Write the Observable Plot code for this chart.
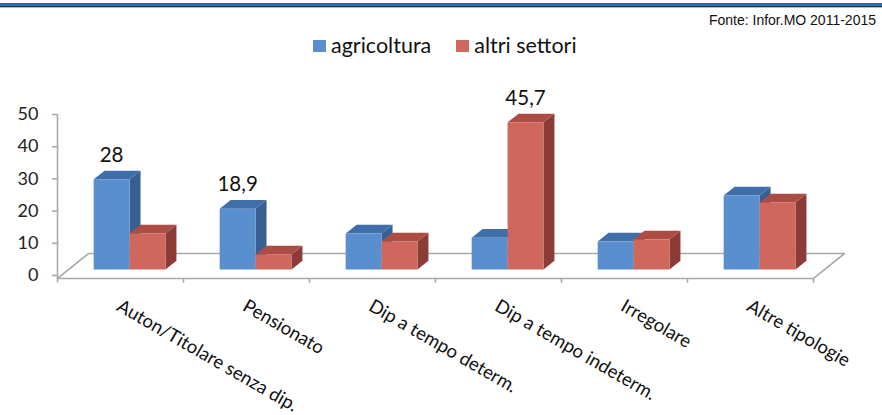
<!DOCTYPE html>
<html>
<head>
<meta charset="utf-8">
<script src="https://cdn.jsdelivr.net/npm/d3@7"></script>
<script src="https://cdn.jsdelivr.net/npm/@observablehq/plot@0.6"></script>
<style>
  html, body { margin: 0; padding: 0; background: #fff; }
  #page { position: relative; width: 882px; height: 415px; overflow: hidden; }
  #hdr-blue { position: absolute; left: 0; top: 3px; width: 882px; height: 3px; background: #146fd0; }
  #hdr-dark { position: absolute; left: 0; top: 6px; width: 882px; height: 1px; background: #1d3550; }
  #hdr-gray { position: absolute; left: 0; top: 7px; width: 882px; height: 1px; background: #b8b8b8; }
  #source { position: absolute; right: 6px; top: 12px; font: 14px "Liberation Sans", Arial, sans-serif; color: #111; }
  #legend { position: absolute; left: 313px; top: 32px; font: 21.5px Lato, "Open Sans", sans-serif; color: #111; display: flex; align-items: center; white-space: nowrap; }
  #legend .sw { display: inline-block; width: 13px; height: 12px; margin-right: 5px; position: relative; top: 1px; }
  #legend .item { display: flex; align-items: center; margin-right: 25px; }
  #chart { position: absolute; left: 0; top: 70px; }
</style>
</head>
<body>
<div id="page">
  <div id="hdr-blue"></div><div id="hdr-dark"></div><div id="hdr-gray"></div>
  <div id="source">Fonte: Infor.MO 2011-2015</div>
  <div id="legend"></div>
  <div id="chart"></div>
</div>
<script>
// ---- data ----
const categories = ["Auton/Titolare senza dip.", "Pensionato", "Dip a tempo determ.", "Dip a tempo indeterm.", "Irregolare", "Altre tipologie"];
const seriesNames = ["agricoltura", "altri settori"];
const agricoltura = [28, 18.9, 11.2, 9.9, 8.7, 23.0];
const altriSettori = [11.2, 4.7, 8.7, 45.7, 9.3, 20.8];
const yTicks = [0, 10, 20, 30, 40, 50];
const labelled = [["Auton/Titolare senza dip.", "agricoltura"], ["Pensionato", "agricoltura"], ["Dip a tempo indeterm.", "altri settori"]];

// ---- styles ----
const palette = {
  "agricoltura":   {front: "#5a8fcf", top: "#3f6fa9", side: "#385f91"},
  "altri settori": {front: "#cf675c", top: "#ad4c45", side: "#8c3b37"}
};

// legend
const legend = document.getElementById("legend");
seriesNames.forEach(s => {
  const it = document.createElement("span");
  it.className = "item";
  it.innerHTML = `<span class="sw" style="background:${palette[s].front}"></span>${s}`;
  legend.appendChild(it);
});

// ---- 3D geometry (in scale units) ----
const BASE = 1.86;   // bar floor level
const DX = 0.087;    // depth offset along x (category units)
const DZ = 2.7;      // depth offset along y (value units)
const W = 0.285;     // bar width
const X0 = 0.287;    // left edge of first bar inside a category

const bars = [];
categories.forEach((c, i) => {
  [agricoltura[i], altriSettori[i]].forEach((v, j) => {
    bars.push({cat: c, i, series: seriesNames[j], value: v, x1: i + X0 + j * W, x2: i + X0 + (j + 1) * W});
  });
});

const faces = [];
bars.forEach((b, k) => {
  const y0 = BASE, y1 = BASE + b.value, p = palette[b.series];
  const add = (name, color, pts) => pts.forEach(([x, y]) => faces.push({id: k + "-" + name, color, x, y}));
  add("side", p.side, [[b.x2, y0], [b.x2 + DX, y0 + DZ], [b.x2 + DX, y1 + DZ], [b.x2, y1]]);
  add("top", p.top, [[b.x1, y1], [b.x1 + DX, y1 + DZ], [b.x2 + DX, y1 + DZ], [b.x2, y1]]);
  add("front", p.front, [[b.x1, y0], [b.x2, y0], [b.x2, y1], [b.x1, y1]]);
});

const FRONT = -0.93, BACK = 6.83, FDX = 0.246;
const floor = [
  {x: 0, y: FRONT}, {x: categories.length, y: FRONT},
  {x: categories.length + FDX, y: BACK}, {x: FDX, y: BACK}, {x: 0, y: FRONT}
];

const labelData = bars.filter(b => labelled.some(([c, s]) => c === b.cat && s === b.series));
const fmt = v => String(v).replace(".", ",");
const FONT = "Lato, 'Open Sans', sans-serif";

const chart = Plot.plot({
  width: 882,
  height: 345,
  marginLeft: 57,
  marginRight: 69,
  marginTop: 44,
  marginBottom: 140,
  style: {fontFamily: FONT, background: "transparent"},
  x: {domain: [0, categories.length], axis: null},
  y: {domain: [0, 50], axis: null},
  color: {type: "identity"},
  marks: [
    // floor outline
    Plot.line(floor, {x: "x", y: "y", stroke: "#a9a9a9", strokeWidth: 1.6}),
    // category tick marks on the floor front edge
    Plot.ruleX(d3.range(1, categories.length + 1), {y1: FRONT, y2: FRONT - 1.5, stroke: "#a9a9a9", strokeWidth: 1.6}),
    // y axis line
    Plot.ruleX([0], {y1: -2.3, y2: 50, stroke: "#a9a9a9", strokeWidth: 1.6}),
    Plot.axisY({ticks: yTicks, tickSize: 5, tickPadding: 14, stroke: "#a9a9a9", strokeWidth: 1.6, fontSize: 18, fill: "#222", tickFormat: d => d, label: null}),
    // 3D bars
    Plot.line(faces, {x: "x", y: "y", z: "id", fill: "color", stroke: "none"}),
    // data labels
    Plot.text(labelData, {x: d => (d.x1 + d.x2) / 2, y: d => BASE + d.value, text: d => fmt(d.value), dy: -24, fontSize: 20.5, fill: "#111", lineAnchor: "middle"}),
    // category labels
    Plot.text(categories, {x: (d, i) => i + 0.5, frameAnchor: "bottom", text: d => d, rotate: 30, textAnchor: "start", lineAnchor: "middle", dx: -2, dy: 29, fontSize: 18.5, fill: "#111"})
  ]
});
document.getElementById("chart").appendChild(chart);
</script>
</body>
</html>
